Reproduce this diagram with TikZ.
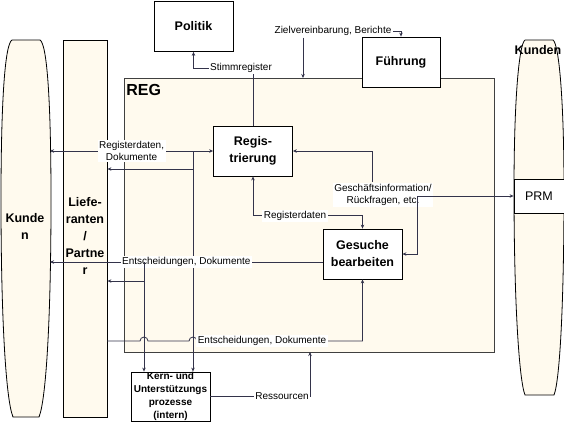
\documentclass[tikz,border=0pt]{standalone}
\usepackage{fontspec}
\setmainfont{Liberation Sans}
\usetikzlibrary{positioning, arrows.meta}

\definecolor{cream}{HTML}{FFFAEE}
\definecolor{linec}{HTML}{33334A}

\begin{document}
\begin{tikzpicture}[x=1pt, y=-1pt, line width=0.8pt,
  box/.style={draw=black, fill=white, minimum width=79pt, minimum height=50pt, inner sep=1pt, align=center, font=\fontsize{12.5}{17}\selectfont\bfseries},
  lbl/.style={fill=white, inner sep=1.5pt, align=center, font=\fontsize{10}{12.5}\selectfont},
  big/.style={align=center, font=\fontsize{12.5}{17}\selectfont\bfseries},
  arr/.style={draw=linec, -{Stealth[length=4pt,width=3.5pt]}},
  arrs/.style={draw=linec, {Stealth[length=4pt,width=3.5pt]}-{Stealth[length=4pt,width=3.5pt]}}]
  \useasboundingbox (0,0) rectangle (564,424);
  \clip (0,0) rectangle (564,424);

  % Kunden, Lieferanten/Partner, REG, Kunden
  \draw[fill=cream] (12,40) -- (40,40) .. controls (47,44) and (51,100) .. (51,200) .. controls (51,320) and (46,400) .. (39,417) -- (13,417) .. controls (6,400) and (1,320) .. (1,200) .. controls (1,100) and (5,44) .. (12,40);
  \node[draw, fill=cream, minimum width=44pt, minimum height=377pt, inner sep=0pt] (lief) at (85,228.5) {};
  \draw[fill=cream, draw=black!75] (124,78) rectangle (494,352);
  \draw[fill=cream] (525,40) -- (553,40) .. controls (559,44) and (564,100) .. (564,190) .. controls (564,300) and (560,380) .. (554,395) -- (525,395) .. controls (519,380) and (514,300) .. (514,190) .. controls (514,100) and (519,44) .. (525,40);
  \coordinate (kdL) at (50,0);

  \node[big] (kdt) at (25,226) {Kunde\\n};
  \node[big] (lieft) at (85,236) {Liefe-\\ranten\\/\\Partne\\r};
  \node[big] (kdr) at (538,50) {Kunden};
  \node[anchor=west, inner sep=0pt, font=\fontsize{16}{18}\selectfont\bfseries] (regt) at (126,90) {REG};

  \node[box] (pol) at (193.5,26.5) {Politik};
  \node[box, minimum width=78pt] (fue) at (401,62) {Führung};
  \node[box] (reg) at (253,151) {Regis-\\trierung};
  \node[box] (ges) at (362.5,254) {Gesuche\\bearbeiten};
  \node[box, minimum height=49pt, inner sep=0pt, font=\fontsize{10}{13}\selectfont\bfseries] (kern) at (170.5,396.5) {Kern- und\\Unterstützungs\\prozesse\\(intern)};
  \node[draw, fill=white, minimum width=50pt, minimum height=34pt, font=\fontsize{12.5}{15}\selectfont] (prm) at (539,196) {PRM};

  % Politik / Fuehrung
  \draw[arr] (reg.north) |- (pol.south |- 0,68) -- (pol.south);
  \node[lbl] (stm) at (241,68) {Stimmregister};
  \node[lbl] (zi) at (333,31) {Zielvereinbarung, Berichte};
  \coordinate (regN) at (303,78);
  \draw[arr] (zi.east) -| (fue.north);
  \draw[arr] (zi.south -| regN) -- (regN);

  % Registrierung
  \draw[arrs] (reg.west -| kdL) -- (reg.west) node[lbl, midway] {Registerdaten,\\Dokumente};
  \coordinate (jA) at (193,151);
  \coordinate (jB) at (193,169);
  \draw[arr] (jA) -- (jA |- kern.north);
  \draw[arr] (jB) -- (jB -| lief.east);
  \draw[arrs] (reg.south) |- ([yshift=13pt]ges.north) -- (ges.north);
  \node[lbl] (rgd) at (295,216) {Registerdaten};

  % Gesuche bearbeiten
  \coordinate (eM) at ([yshift=-8pt]ges.west);
  \draw[arr] (eM) -- (eM -| kdL) node[lbl, midway] {Entscheidungen, Dokumente};
  \coordinate (jC) at (144,262);
  \coordinate (jD) at (144,281);
  \draw[arr] (jC) -- (jC |- kern.north);
  \draw[arr] (jD) -- (jD -| lief.east);
  \coordinate (eB) at (107,341);
  \draw[arr] (eB) -- (140,341) arc[start angle=180, end angle=0, radius=4pt] -- (189,341) arc[start angle=180, end angle=0, radius=4pt] -- (eB -| ges.south) -- (ges.south);
  \node[lbl] (entB) at (262,341) {Entscheidungen, Dokumente};

  \node[lbl] (gi) at (383,195) {Geschäftsinformation/\\Rückfragen, etc.};
  \coordinate (jF) at (372,182);
  \coordinate (jE) at (417,196);
  \draw[arr] (jF) |- (reg.east);
  \draw[arr] (jE) -- (prm.west);
  \draw[arr] (jE) |- (ges.east);

  % Ressourcen
  \coordinate (regS) at (310,352);
  \draw[arr] (kern.east) -| (regS);
  \node[lbl] (res) at (282,396) {Ressourcen};
\end{tikzpicture}
\end{document}
